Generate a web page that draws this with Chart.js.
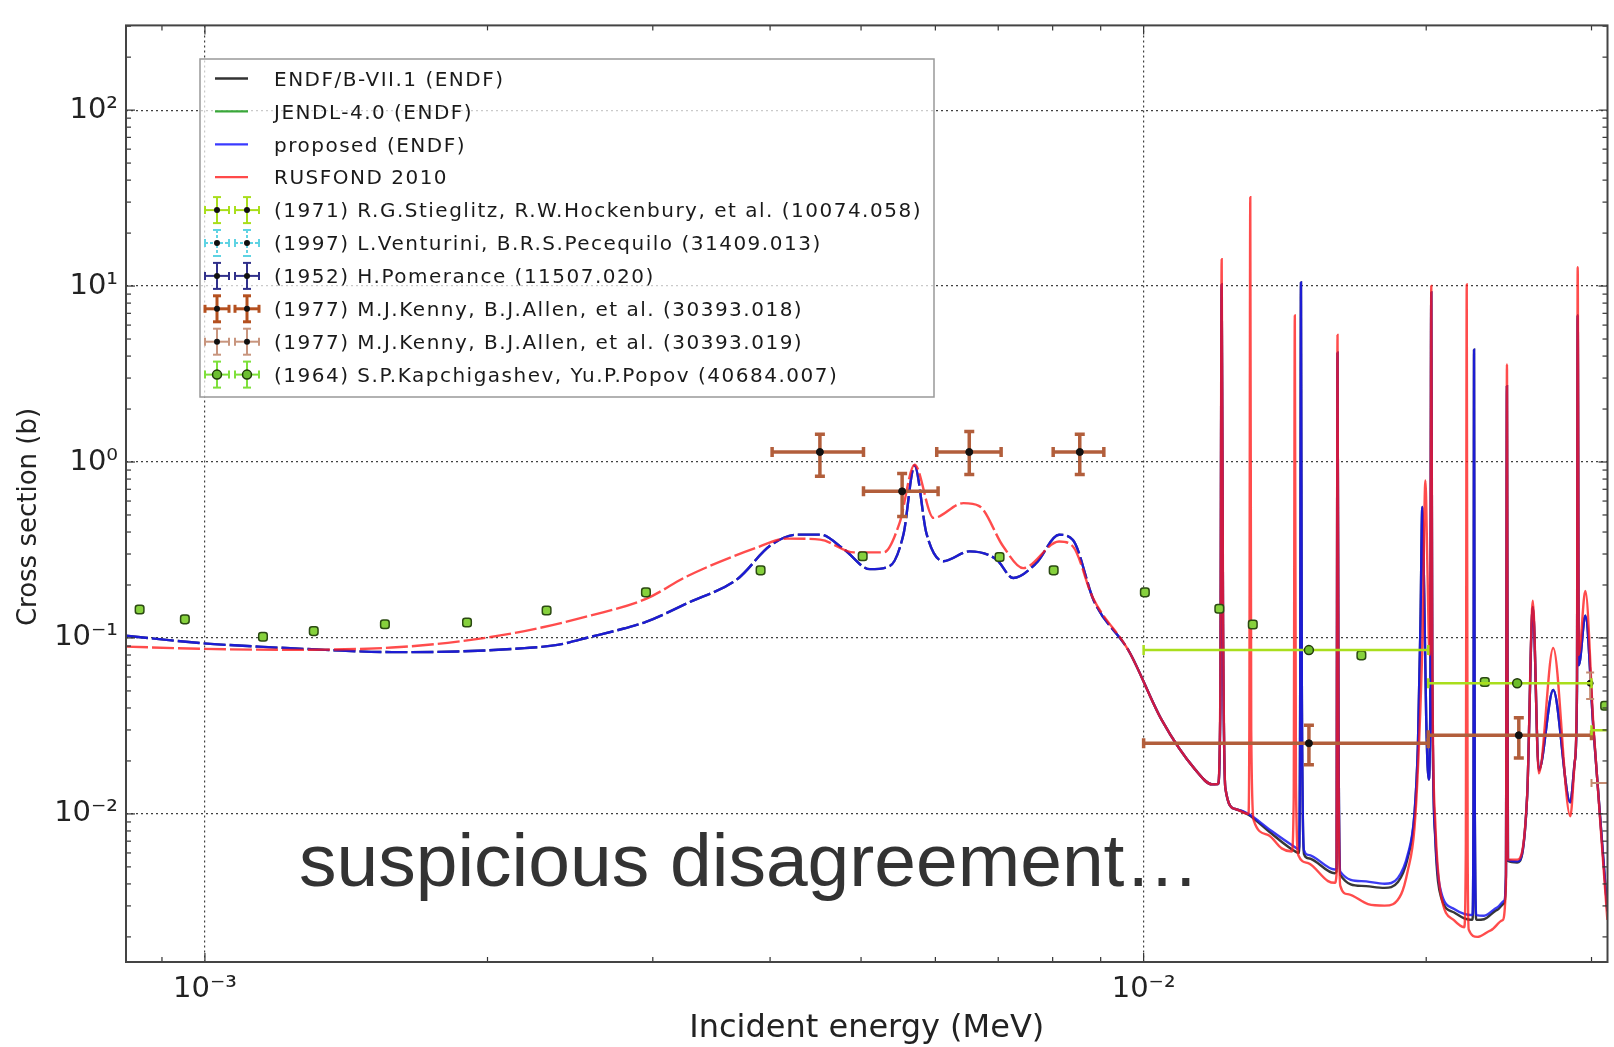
<!DOCTYPE html>
<html lang="en">
<head>
<meta charset="UTF-8">
<title>Capture cross section - evaluations vs. measurements</title>
<script src="https://cdn.jsdelivr.net/npm/chart.js"></script>
<style>
  html, body { margin: 0; padding: 0; background: #fff; }
  #xsChart { display: block; }
</style>
</head>
<body>
<canvas id="xsChart" width="1614" height="1047"></canvas>
<script>
// ---- evaluated curves: incident energy (MeV) / cross section (b) ----
const propE = [0.000824, 0.000994, 0.001141, 0.001343, 0.001582, 0.001859, 0.002190, 0.002374, 0.002579, 0.002795,
  0.002950, 0.003268, 0.003693, 0.004002, 0.004276, 0.004522, 0.004795, 0.005110, 0.005363, 0.005550,
  0.005701, 0.005871, 0.006119, 0.006524, 0.006967, 0.007262, 0.007683, 0.008126, 0.008408, 0.008850,
  0.00965, 0.01046, 0.01135, 0.01183, 0.01200, 0.01207, 0.01211, 0.01215, 0.01222, 0.01252,
  0.01293, 0.01358, 0.01438, 0.01464, 0.01468, 0.01471, 0.01474, 0.01482, 0.01497, 0.01598,
  0.01605, 0.01609, 0.01613, 0.01620, 0.01706, 0.01806, 0.01866, 0.01911, 0.01943, 0.01960,
  0.01972, 0.01981, 0.01990, 0.02000, 0.02012, 0.02020, 0.02025, 0.02030, 0.02045, 0.02073,
  0.02142, 0.02195, 0.02240, 0.02246, 0.02249, 0.02253, 0.02262, 0.02305, 0.02381, 0.02420,
  0.02432, 0.02438, 0.02444, 0.02500, 0.02562, 0.02598, 0.02636, 0.02731, 0.02848, 0.02880,
  0.02895, 0.02900, 0.02908, 0.02955, 0.03015, 0.03119];
const propXS = [0.1029, 0.0933, 0.0893, 0.0856, 0.0831, 0.0838, 0.0875, 0.0913, 0.1016, 0.1132,
  0.1233, 0.158, 0.2165, 0.335, 0.3866, 0.3866, 0.3187, 0.2462, 0.2559, 0.3916,
  0.9524, 0.3916, 0.2729, 0.3105, 0.2801, 0.2193, 0.2660, 0.386, 0.360, 0.163,
  0.0838, 0.0340, 0.01785, 0.01472, 0.0148, 0.04, 10.2, 0.12, 0.0140, 0.01066,
  0.0100, 0.00824, 0.00666, 0.0063, 0.04, 10.5, 0.06, 0.0062, 0.00585, 0.00483,
  0.0049, 4.18, 0.03, 0.0047, 0.00415, 0.00401, 0.00433, 0.00585, 0.0100, 0.025,
  0.12, 0.555, 0.18, 0.035, 0.0157, 0.04, 9.2, 0.06, 0.0075, 0.00365,
  0.00288, 0.00270, 0.00266, 0.012, 4.35, 0.012, 0.00266, 0.00264, 0.00294, 0.00321,
  0.0045, 2.7, 0.0055, 0.00537, 0.0127, 0.15, 0.0177, 0.0506, 0.01164, 0.02,
  0.05, 6.8, 0.07, 0.134, 0.0297, 0.0028];

// ENDF/B-VII.1 shares the grid of the proposed file, a little lower in the valleys
const endfE = propE;
const endfXS = [0.1029, 0.0933, 0.0893, 0.0856, 0.0831, 0.0838, 0.0875, 0.0913, 0.1016, 0.1132,
  0.1233, 0.158, 0.2165, 0.335, 0.3866, 0.3866, 0.3187, 0.2462, 0.2559, 0.3916,
  0.9524, 0.3916, 0.2729, 0.3105, 0.2801, 0.2193, 0.2660, 0.386, 0.360, 0.163,
  0.0838, 0.0340, 0.01785, 0.01472, 0.0148, 0.04, 10.2, 0.12, 0.0140, 0.01066,
  0.0099, 0.0080, 0.0063, 0.0060, 0.04, 10.5, 0.06, 0.0059, 0.0056, 0.0046,
  0.0047, 4.18, 0.03, 0.0045, 0.0039, 0.0038, 0.0041, 0.0056, 0.0098, 0.025,
  0.12, 0.555, 0.18, 0.035, 0.0157, 0.04, 9.2, 0.06, 0.0072, 0.0034,
  0.00275, 0.00255, 0.0025, 0.012, 4.35, 0.012, 0.0025, 0.00252, 0.00285, 0.0031,
  0.0044, 2.7, 0.0054, 0.0053, 0.0127, 0.15, 0.0177, 0.0506, 0.01164, 0.02,
  0.05, 6.8, 0.07, 0.134, 0.0297, 0.0028];

const rusE = [0.000824, 0.000994, 0.00124, 0.001582, 0.001859, 0.002190, 0.002579, 0.002950, 0.003268, 0.003850,
  0.004172, 0.004522, 0.004914, 0.005286, 0.005496, 0.005701, 0.005972, 0.006426, 0.006683, 0.007087,
  0.007442, 0.008126, 0.008408, 0.008829, 0.00965, 0.01046, 0.01135, 0.01183, 0.01200, 0.01207,
  0.01211, 0.01215, 0.01222, 0.01252, 0.01293, 0.01296, 0.01299, 0.01302, 0.01310, 0.01358,
  0.01403, 0.01438, 0.01445, 0.01449, 0.01453, 0.01462, 0.01497, 0.01572, 0.01598, 0.01605,
  0.01609, 0.01613, 0.01620, 0.01650, 0.01734, 0.01806, 0.01881, 0.01911, 0.01943, 0.01965,
  0.01982, 0.01996, 0.02006, 0.02016, 0.02021, 0.02025, 0.02030, 0.02045, 0.02073, 0.02142,
  0.02195, 0.02204, 0.02209, 0.02214, 0.02220, 0.02267, 0.02343, 0.02410, 0.02432, 0.02438,
  0.02444, 0.02500, 0.02562, 0.02598, 0.02636, 0.02731, 0.02848, 0.02880, 0.02895, 0.02900,
  0.02908, 0.02955, 0.03015, 0.03119];
const rusXS = [0.0893, 0.0867, 0.0856, 0.0882, 0.0953, 0.1094, 0.1344, 0.1667, 0.2250, 0.3227,
  0.3671, 0.3624, 0.3065, 0.3065, 0.4511, 0.9647, 0.4811, 0.5838, 0.5614, 0.3311,
  0.2494, 0.3532, 0.3311, 0.1694, 0.0838, 0.0340, 0.01785, 0.01472, 0.0148, 0.05,
  14.2, 0.15, 0.0140, 0.01066, 0.0100, 0.03, 32, 0.03, 0.0092, 0.00757,
  0.00637, 0.00611, 0.012, 6.8, 0.015, 0.0058, 0.00525, 0.00415, 0.00406, 0.0045,
  5.27, 0.02, 0.0039, 0.00350, 0.00307, 0.00301, 0.00350, 0.00472, 0.00824, 0.025,
  0.10, 0.785, 0.25, 0.08, 0.2, 10.0, 0.08, 0.009, 0.00350, 0.00248,
  0.00227, 0.006, 10.2, 0.006, 0.0022, 0.00200, 0.00218, 0.00248, 0.004, 3.58,
  0.0055, 0.0055, 0.0127, 0.163, 0.0170, 0.0877, 0.0097, 0.02, 0.06, 12.8,
  0.08, 0.185, 0.031, 0.0025];

// ---- measurements (EXFOR) ----
const stiE = [0.0150, 0.0250, 0.0350];
const stiXS = [0.0853, 0.0553, 0.0299];
const stiELo = [0.0100, 0.0201, 0.0300];
const stiEHi = [0.0201, 0.0300, 0.0400];

const ken18E = [0.00452, 0.00553, 0.00652, 0.00855, 0.0150, 0.0251];
const ken18XS = [1.14, 0.681, 1.14, 1.14, 0.0252, 0.0280];
const ken18ELo = [0.00402, 0.00503, 0.00602, 0.00801, 0.0100, 0.0201];
const ken18EHi = [0.00503, 0.00604, 0.00705, 0.00907, 0.0201, 0.0300];
const ken18XSLo = [0.83, 0.49, 0.85, 0.85, 0.0190, 0.0208];
const ken18XSHi = [1.44, 0.86, 1.49, 1.44, 0.0319, 0.0352];

const ken19E = [0.0299, 0.0350];
const ken19XS = [0.0553, 0.0150];
const ken19ELo = [0.0299, 0.0300];
const ken19EHi = [0.0299, 0.0400];
const ken19XSLo = [0.0450, 0.0150];
const ken19XSHi = [0.0637, 0.0150];

const kapE = [0.000852, 0.000952, 0.001153, 0.001306, 0.001555, 0.001902, 0.002312, 0.002950, 0.003908, 0.005020,
  0.007023, 0.008020, 0.01003, 0.01204, 0.01307, 0.01706, 0.02309, 0.03102];
const kapXS = [0.1452, 0.1276, 0.1016, 0.1094, 0.1197, 0.1224, 0.1433, 0.1815, 0.2421, 0.2911,
  0.2884, 0.2421, 0.1815, 0.1465, 0.1192, 0.0796, 0.0562, 0.0412];

// ---- axes ----
const xMin = 0.000824, xMax = 0.0312;
const yMin = 0.00144, yMax = 303;
const xTickVals = [1e-3, 1e-2];
const xTickLabels = ['10\u207B\u00B3', '10\u207B\u00B2'];
const yTickVals = [1e-2, 1e-1, 1, 10, 100];
const yTickLabels = ['10\u207B\u00B2', '10\u207B\u00B9', '10\u2070', '10\u00B9', '10\u00B2'];

const FONT = '"DejaVu Sans", sans-serif';

function pts(xs, ys) {
  return xs.map((x, i) => ({ x: x, y: ys[i] }));
}

function labelFor(vals, labels, v) {
  const i = vals.findIndex(t => Math.abs(t - v) / t < 1e-6);
  return i < 0 ? '' : labels[i];
}

// curves look broken into dashes below 10 keV
function lowDash(c) {
  return c.p0.parsed.x < 0.0092 ? [22, 4] : undefined;
}

function curve(label, e, xs, color, order) {
  return {
    label: label, data: pts(e, xs), borderColor: color, borderWidth: 2.4,
    pointRadius: 0, cubicInterpolationMode: 'monotone', tension: 0.4,
    borderDash: [], segment: { borderDash: lowDash }, order: order
  };
}

function measured(label, e, xs, opts) {
  return Object.assign({
    label: label, data: pts(e, xs), showLine: false, pointRadius: 3.5,
    pointBackgroundColor: '#111', pointBorderColor: '#111', pointBorderWidth: 1, order: 1
  }, opts);
}

const datasets = [
  curve('ENDF/B-VII.1 (ENDF)', endfE, endfXS, 'rgba(20,20,20,0.85)', 10),
  { label: 'JENDL-4.0 (ENDF)', data: [], borderColor: '#3aa83a', borderWidth: 2.3, pointRadius: 0, order: 11 },
  curve('proposed (ENDF)', propE, propXS, 'rgba(25,25,240,0.85)', 9),
  curve('RUSFOND 2010', rusE, rusXS, 'rgba(255,25,25,0.78)', 8),
  measured('(1971) R.G.Stieglitz, R.W.Hockenbury, et al. (10074.058)', stiE, stiXS, {
    pointRadius: 4.5, pointBackgroundColor: '#6cbd2a', pointBorderColor: '#223a0c', pointBorderWidth: 1.5,
    err: { color: '#a9de1c', width: 2.5, cap: 5, eLo: stiELo, eHi: stiEHi }
  }),
  { label: '(1997) L.Venturini, B.R.S.Pecequilo (31409.013)', data: [], showLine: false, order: 1 },
  { label: '(1952) H.Pomerance (11507.020)', data: [], showLine: false, order: 1 },
  measured('(1977) M.J.Kenny, B.J.Allen, et al. (30393.018)', ken18E, ken18XS, {
    err: { color: '#b25e3b', width: 3.5, cap: 5, eLo: ken18ELo, eHi: ken18EHi, sLo: ken18XSLo, sHi: ken18XSHi }
  }),
  measured('(1977) M.J.Kenny, B.J.Allen, et al. (30393.019)', ken19E, ken19XS, {
    pointRadius: 3,
    err: { color: '#c48a70', width: 2, cap: 4, eLo: ken19ELo, eHi: ken19EHi, sLo: ken19XSLo, sHi: ken19XSHi }
  }),
  measured('(1964) S.P.Kapchigashev, Yu.P.Popov (40684.007)', kapE, kapXS, {
    pointStyle: 'rectRounded', pointRadius: 5, pointBackgroundColor: '#86d13c',
    pointBorderColor: '#2b4a12', pointBorderWidth: 1.5
  })
];

// legend symbols, in dataset order
const legendStyle = [
  { line: '#333' },
  { line: '#3aa83a' },
  { line: '#3a3aff' },
  { line: '#ff4a4a' },
  { err: '#a9de1c', w: 2, marker: 'dot' },
  { err: '#5fd3e3', w: 2, dash: [3, 2], marker: 'dot' },
  { err: '#30308a', w: 2, marker: 'dot' },
  { err: '#b4501f', w: 3, marker: 'dot' },
  { err: '#c8957e', w: 2, marker: 'dot' },
  { err: '#7ee03a', w: 2, marker: 'ring' }
];

function segLine(ctx, x1, y1, x2, y2) {
  ctx.beginPath();
  ctx.moveTo(x1, y1);
  ctx.lineTo(x2, y2);
  ctx.stroke();
}

// error bars go down right before each data set's markers
const errorBars = {
  id: 'errorBars',
  beforeDatasetDraw(chart, args) {
    const ds = chart.data.datasets[args.index];
    if (!ds.err) return;
    const { ctx, chartArea: a, scales: { x, y } } = chart;
    const err = ds.err;
    ctx.save();
    ctx.beginPath();
    ctx.rect(a.left, a.top, a.right - a.left, a.bottom - a.top);
    ctx.clip();
    ctx.strokeStyle = err.color;
    ctx.lineWidth = err.width;
    ds.data.forEach((p, i) => {
      const py = y.getPixelForValue(p.y);
      const px = x.getPixelForValue(p.x);
      if (err.eLo && err.eHi[i] > err.eLo[i]) {
        const x1 = x.getPixelForValue(err.eLo[i]);
        const x2 = x.getPixelForValue(err.eHi[i]);
        segLine(ctx, x1, py, x2, py);
        segLine(ctx, x1, py - err.cap, x1, py + err.cap);
        segLine(ctx, x2, py - err.cap, x2, py + err.cap);
      }
      if (err.sLo && err.sHi[i] > err.sLo[i]) {
        const y1 = y.getPixelForValue(err.sHi[i]);
        const y2 = y.getPixelForValue(err.sLo[i]);
        segLine(ctx, px, y1, px, y2);
        segLine(ctx, px - err.cap, y1, px + err.cap, y1);
        segLine(ctx, px - err.cap, y2, px + err.cap, y2);
      }
    });
    ctx.restore();
  }
};

function logTicks(lo, hi) {
  const out = [];
  for (let d = Math.floor(Math.log10(lo)); d <= Math.ceil(Math.log10(hi)); d++) {
    for (let m = 1; m <= 9; m++) {
      const v = m * Math.pow(10, d);
      if (v >= lo && v <= hi) out.push({ v: v, major: m === 1 });
    }
  }
  return out;
}

// inward ticks on all four sides plus the box
const frame = {
  id: 'frame',
  afterDatasetsDraw(chart) {
    const { ctx, chartArea: a, scales: { x, y } } = chart;
    ctx.save();
    ctx.strokeStyle = '#333';
    ctx.lineWidth = 1.2;
    logTicks(xMin, xMax).forEach(t => {
      const p = x.getPixelForValue(t.v);
      const len = t.major ? 9 : 5;
      segLine(ctx, p, a.bottom, p, a.bottom - len);
      segLine(ctx, p, a.top, p, a.top + len);
    });
    logTicks(yMin, yMax).forEach(t => {
      const p = y.getPixelForValue(t.v);
      const len = t.major ? 9 : 5;
      segLine(ctx, a.left, p, a.left + len, p);
      segLine(ctx, a.right, p, a.right - len, p);
    });
    ctx.strokeStyle = '#444';
    ctx.lineWidth = 2;
    ctx.strokeRect(a.left, a.top, a.right - a.left, a.bottom - a.top);
    ctx.restore();
  }
};

function errSymbol(ctx, cx, cy, s) {
  ctx.strokeStyle = s.err;
  ctx.lineWidth = s.w;
  ctx.setLineDash(s.dash || []);
  segLine(ctx, cx - 12, cy, cx + 12, cy);
  segLine(ctx, cx, cy - 13, cx, cy + 13);
  ctx.setLineDash([]);
  segLine(ctx, cx - 12, cy - 4, cx - 12, cy + 4);
  segLine(ctx, cx + 12, cy - 4, cx + 12, cy + 4);
  segLine(ctx, cx - 4, cy - 13, cx + 4, cy - 13);
  segLine(ctx, cx - 4, cy + 13, cx + 4, cy + 13);
  ctx.beginPath();
  if (s.marker === 'ring') {
    ctx.arc(cx, cy, 4.5, 0, Math.PI * 2);
    ctx.fillStyle = '#6cc030';
    ctx.fill();
    ctx.strokeStyle = '#1e3a0a';
    ctx.lineWidth = 1.5;
    ctx.stroke();
  } else {
    ctx.arc(cx, cy, 3, 0, Math.PI * 2);
    ctx.fillStyle = '#111';
    ctx.fill();
  }
}

// legend box, axis titles and the annotation
const overlay = {
  id: 'overlay',
  afterDraw(chart) {
    const { ctx, chartArea: a } = chart;
    ctx.save();

    // legend
    const bx = 200, by = 59, bw = 734, bh = 338;
    ctx.fillStyle = 'rgba(255,255,255,0.72)';
    ctx.fillRect(bx, by, bw, bh);
    ctx.strokeStyle = '#999';
    ctx.lineWidth = 1.5;
    ctx.strokeRect(bx, by, bw, bh);
    ctx.font = '20px ' + FONT;
    ctx.letterSpacing = '1.5px';
    ctx.textBaseline = 'middle';
    ctx.textAlign = 'left';
    chart.data.datasets.forEach((ds, i) => {
      const cy = 78.5 + i * 32.9;
      const s = legendStyle[i];
      if (s.line) {
        ctx.strokeStyle = s.line;
        ctx.lineWidth = 2.3;
        segLine(ctx, 215, cy, 248, cy);
      } else {
        errSymbol(ctx, 217, cy, s);
        errSymbol(ctx, 247, cy, s);
      }
      ctx.fillStyle = '#1a1a1a';
      ctx.fillText(ds.label, 274, cy + 2);
    });
    ctx.letterSpacing = '0px';

    // axis titles
    ctx.fillStyle = '#222';
    ctx.textAlign = 'center';
    ctx.font = '32px ' + FONT;
    ctx.fillText('Incident energy (MeV)', (a.left + a.right) / 2, 1029);
    ctx.save();
    ctx.translate(29, 517);
    ctx.rotate(-Math.PI / 2);
    ctx.font = '26px ' + FONT;
    ctx.fillText('Cross section (b)', 0, 0);
    ctx.restore();

    // annotation
    ctx.textAlign = 'left';
    ctx.textBaseline = 'alphabetic';
    ctx.fillStyle = '#333';
    ctx.font = '75px "Liberation Sans", Arial, sans-serif';
    ctx.fillText('suspicious disagreement\u2026', 299, 886);
    ctx.restore();
  }
};

new Chart(document.getElementById('xsChart'), {
  type: 'line',
  data: { datasets: datasets },
  options: {
    responsive: false,
    animation: false,
    devicePixelRatio: 1,
    events: [],
    layout: { padding: { left: 0, top: 11, right: 2, bottom: 0 } },
    plugins: { legend: { display: false }, tooltip: { enabled: false } },
    scales: {
      x: {
        type: 'logarithmic', position: 'bottom', min: xMin, max: xMax,
        afterFit: s => { s.height = 85; },
        afterBuildTicks: s => { s.ticks = xTickVals.map(v => ({ value: v })); },
        grid: { color: 'rgba(0,0,0,0.75)', lineWidth: 1.2, drawTicks: false },
        border: { display: false, dash: [2, 3] },
        ticks: {
          autoSkip: false, maxRotation: 0, padding: 10, color: '#222',
          font: { family: FONT, size: 29 },
          callback: v => labelFor(xTickVals, xTickLabels, v)
        }
      },
      y: {
        type: 'logarithmic', position: 'left', min: yMin, max: yMax,
        afterFit: s => { s.width = 126; },
        afterBuildTicks: s => { s.ticks = yTickVals.map(v => ({ value: v })); },
        grid: { color: 'rgba(0,0,0,0.75)', lineWidth: 1.2, drawTicks: false },
        border: { display: false, dash: [2, 3] },
        ticks: {
          autoSkip: false, padding: 8, color: '#222',
          font: { family: FONT, size: 29 },
          callback: v => labelFor(yTickVals, yTickLabels, v)
        }
      }
    }
  },
  plugins: [errorBars, frame, overlay]
});
</script>
</body>
</html>
